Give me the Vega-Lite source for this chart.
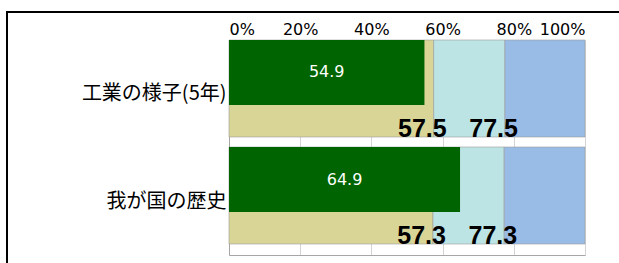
{
  "$schema": "https://vega.github.io/schema/vega-lite/v6.json",
  "width": 615,
  "height": 254,
  "autosize": {"type": "none"},
  "padding": {"left": 7, "top": 12, "right": -3, "bottom": -3},
  "background": "white",
  "config": {"view": {"stroke": "black", "strokeWidth": 2}},
  "datasets": {
    "bands": [
      {"cat": "工業の様子(5年)", "seg": "yellow", "from": 0, "to": 57.5},
      {"cat": "工業の様子(5年)", "seg": "cyan", "from": 57.5, "to": 77.5},
      {"cat": "工業の様子(5年)", "seg": "blue", "from": 77.5, "to": 100},
      {"cat": "我が国の歴史", "seg": "yellow", "from": 0, "to": 57.3},
      {"cat": "我が国の歴史", "seg": "cyan", "from": 57.3, "to": 77.3},
      {"cat": "我が国の歴史", "seg": "blue", "from": 77.3, "to": 100}
    ],
    "green": [
      {"cat": "工業の様子(5年)", "value": 54.9},
      {"cat": "我が国の歴史", "value": 64.9}
    ]
  },
  "resolve": {"scale": {"x": "independent"}, "axis": {"x": "independent"}},
  "layer": [
    {
      "layer": [
        {
          "data": {"name": "bands"},
          "mark": {"type": "bar", "stroke": "#9a9a9a", "strokeWidth": 0.6},
          "encoding": {
            "y": {
              "field": "cat", "type": "nominal", "sort": null,
              "scale": {"range": [28, 243], "paddingInner": 0.0935, "paddingOuter": 0.0514, "align": 0},
              "axis": {"title": null, "orient": "left", "offset": -222, "ticks": false, "labelPadding": 3,
                       "labelFont": "Noto Sans CJK JP", "labelFontSize": 20, "labelColor": "black",
                       "labelOffset": 6, "domainColor": "#a6a6a6", "labelLimit": 300, "grid": false}
            },
            "x": {
              "field": "from", "type": "quantitative",
              "scale": {"domain": [0, 100], "range": [222, 578]},
              "axis": {"orient": "top", "offset": -28, "title": null, "values": [0, 20, 40, 60, 80, 100],
                       "labelExpr": "datum.value + '%'", "ticks": false, "domain": false, "grid": true,
                       "gridColor": "#d4d4d4", "labelFont": "DejaVu Sans", "labelFontSize": 16,
                       "labelColor": "black", "labelPadding": 3}
            },
            "x2": {"field": "to"},
            "color": {
              "field": "seg", "type": "nominal",
              "scale": {"domain": ["yellow", "cyan", "blue"], "range": ["#d9d597", "#bde4e4", "#99bce7"]},
              "legend": null
            }
          }
        },
        {
          "data": {"name": "green"},
          "mark": {"type": "bar", "color": "#006400", "height": {"band": 0.67}, "yOffset": -16},
          "encoding": {
            "y": {"field": "cat", "type": "nominal", "sort": null},
            "x": {"field": "value", "type": "quantitative"}
          }
        },
        {
          "data": {"name": "bands"},
          "transform": [{"filter": "datum.seg != 'blue'"}],
          "mark": {"type": "text", "font": "Liberation Sans", "fontWeight": "bold", "fontSize": 25,
                   "color": "black", "align": "right", "dx": 13, "baseline": "alphabetic"},
          "encoding": {
            "y": {"field": "cat", "type": "nominal", "sort": null, "bandPosition": 1},
            "x": {"field": "to", "type": "quantitative"},
            "text": {"field": "to", "type": "quantitative", "format": ".1f"}
          }
        }
      ]
    },
    {
      "data": {"name": "green"},
      "mark": {"type": "text", "color": "white", "font": "DejaVu Sans", "fontSize": 16, "yOffset": -16, "baseline": "middle"},
      "encoding": {
        "y": {"field": "cat", "type": "nominal", "sort": null},
        "x": {
          "field": "value", "type": "quantitative",
          "scale": {"domain": [0, 200], "range": [222, 578]},
          "axis": {"orient": "bottom", "offset": -11, "title": null, "labels": false, "ticks": false,
                   "grid": false, "domain": true, "domainColor": "#a6a6a6"}
        },
        "text": {"field": "value", "type": "quantitative", "format": ".1f"}
      }
    }
  ]
}
